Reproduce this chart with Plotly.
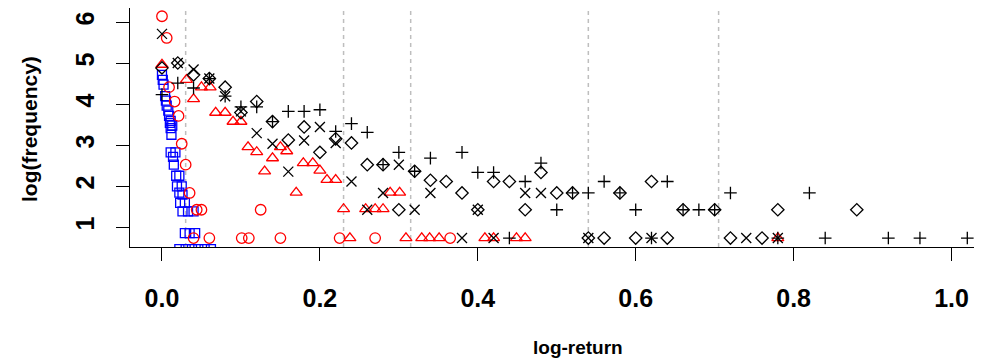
import plotly.graph_objects as go

# ---- data ----
circle_x = [0.000, 0.006, 0.009, 0.016, 0.021, 0.025, 0.030, 0.035, 0.044, 0.050, 0.125,
            0.040, 0.060, 0.101, 0.110, 0.150, 0.225, 0.270, 0.365]
circle_y = [6.15, 5.62, 4.42, 4.07, 3.72, 3.04, 2.53, 1.84, 1.43, 1.43, 1.43,
            0.74, 0.74, 0.74, 0.74, 0.74, 0.74, 0.74, 0.74]

square_x = [0.000, 0.001, 0.002, 0.004, 0.005, 0.006, 0.008, 0.009, 0.011, 0.013, 0.010,
            0.011, 0.012, 0.011, 0.017, 0.014, 0.015, 0.018, 0.022, 0.019, 0.025, 0.022,
            0.026, 0.023, 0.029, 0.026, 0.033, 0.040, 0.029, 0.035, 0.042,
            0.022, 0.030, 0.038, 0.046, 0.054, 0.062]
square_y = [4.72, 4.60, 4.48, 4.20, 4.09, 3.97, 3.85, 3.72, 3.60, 3.48, 3.55,
            3.42, 3.26, 2.83, 2.83, 2.72, 2.53, 2.26, 2.26, 2.00, 2.00, 1.85,
            1.80, 1.60, 1.60, 1.39, 1.39, 1.39, 0.86, 0.86, 0.86,
            0.47, 0.47, 0.47, 0.47, 0.47, 0.47]

triangle_x = [0.000, 0.031, 0.040, 0.050, 0.061, 0.068, 0.080, 0.090, 0.100, 0.109, 0.120,
              0.130, 0.140, 0.150, 0.158, 0.170, 0.179, 0.191, 0.200, 0.209, 0.220, 0.230,
              0.258, 0.270, 0.280, 0.289, 0.301, 0.238, 0.309, 0.329, 0.339, 0.351,
              0.409, 0.420, 0.449, 0.460, 0.780]
triangle_y = [4.97, 4.60, 4.13, 4.42, 4.42, 3.80, 3.80, 3.58, 3.58, 2.96, 2.84,
              2.37, 2.69, 2.96, 2.86, 1.85, 2.57, 2.57, 2.39, 2.16, 2.16, 1.45,
              1.45, 1.45, 1.45, 1.85, 1.85, 0.74, 0.74, 0.74, 0.74, 0.74,
              0.74, 0.74, 0.74, 0.74, 0.74]

diamond_x = [0.00, 0.02, 0.04, 0.06, 0.08, 0.10, 0.12, 0.14, 0.16, 0.18, 0.20, 0.22, 0.24,
             0.26, 0.28, 0.30, 0.32, 0.34, 0.36, 0.38, 0.40, 0.42, 0.44, 0.46, 0.48, 0.50,
             0.52, 0.54, 0.56, 0.58, 0.60, 0.62, 0.64, 0.66, 0.70, 0.72, 0.76, 0.78, 0.88]
diamond_y = [4.89, 5.01, 4.72, 4.63, 4.42, 3.80, 4.07, 3.58, 3.13, 3.45, 2.83, 3.16, 3.06,
             2.53, 2.53, 1.43, 2.37, 2.15, 2.12, 1.84, 1.43, 2.12, 2.12, 1.43, 2.34, 1.84,
             1.84, 0.74, 0.74, 1.84, 0.74, 2.12, 0.74, 1.43, 1.43, 0.74, 0.74, 1.43, 1.43]

cross_x = [0.00, 0.02, 0.04, 0.06, 0.08, 0.10, 0.12, 0.14, 0.16, 0.18, 0.20, 0.22, 0.24,
           0.26, 0.28, 0.30, 0.32, 0.34, 0.38, 0.40, 0.42, 0.46, 0.48, 0.54, 0.62, 0.74,
           0.78, 1.036]
cross_y = [5.72, 5.01, 4.85, 4.63, 4.20, 3.83, 3.30, 3.04, 2.36, 3.12, 3.45, 3.06, 2.12,
           1.43, 1.84, 2.53, 1.43, 1.84, 0.74, 1.43, 0.74, 1.84, 1.84, 0.74, 0.74, 0.74,
           0.74, 0.74]

plus_x = [0.00, 0.02, 0.04, 0.06, 0.08, 0.10, 0.12, 0.14, 0.16, 0.18, 0.20, 0.22, 0.24,
          0.26, 0.28, 0.30, 0.32, 0.34, 0.38, 0.40, 0.42, 0.44, 0.46, 0.48, 0.50, 0.52,
          0.54, 0.56, 0.58, 0.60, 0.62, 0.64, 0.66, 0.68, 0.70, 0.72, 0.78, 0.82, 0.84,
          0.92, 0.96, 1.02]
plus_y = [4.24, 4.52, 4.40, 4.63, 4.20, 3.94, 3.94, 3.58, 3.83, 3.83, 3.87, 3.34, 3.53,
          3.32, 2.53, 2.83, 2.37, 2.69, 2.83, 2.34, 2.34, 0.74, 2.12, 2.57, 1.43, 1.84,
          1.84, 2.12, 1.84, 1.43, 0.74, 2.12, 1.43, 1.43, 1.43, 1.84, 0.74, 1.84, 0.74,
          0.74, 0.74, 0.74]

vline_x = [0.03, 0.23, 0.315, 0.54, 0.705]

x_ticks = [0.0, 0.2, 0.4, 0.6, 0.8, 1.0]
x_tick_labels = ["0.0", "0.2", "0.4", "0.6", "0.8", "1.0"]
y_ticks = [1, 2, 3, 4, 5, 6]
y_tick_labels = ["1", "2", "3", "4", "5", "6"]

# ---- figure ----
RED = "#FF0000"
BLUE = "#0000FF"
BLACK = "#000000"
FONT = "Liberation Sans"

fig = go.Figure()

def add(xs, ys, symbol, color, size):
    fig.add_trace(go.Scatter(
        x=xs, y=ys, mode="markers",
        marker=dict(symbol=symbol, size=size, color=color,
                    line=dict(color=color, width=1.3)),
        showlegend=False, hoverinfo="skip"))

add(square_x, square_y, "square-open", BLUE, 9)
add(circle_x, circle_y, "circle-open", RED, 10.5)
add(triangle_x, triangle_y, "triangle-up-open", RED, 10.5)
add(diamond_x, diamond_y, "diamond-open", BLACK, 9.5)
add(cross_x, cross_y, "x-thin-open", BLACK, 10)
add(plus_x, plus_y, "cross-thin-open", BLACK, 9)

for vx in vline_x:
    fig.add_shape(type="line", xref="x", yref="paper", x0=vx, x1=vx, y0=0, y1=1,
                  line=dict(color="#BEBEBE", width=1.5, dash="4px,4px"), layer="below")

# the page body keeps an 8 px margin, so the figure starts at (8, 8)
fig.update_layout(
    width=974, height=352,
    margin=dict(l=122, r=0, t=0, b=113),
    paper_bgcolor="white", plot_bgcolor="white",
    xaxis=dict(range=[-0.0405, 1.0386], tickvals=x_ticks, ticktext=x_tick_labels,
               automargin=False,
               showgrid=False, zeroline=False, showline=True, mirror=True,
               linecolor=BLACK, linewidth=1, ticks="outside", ticklen=13,
               tickwidth=1, tickcolor=BLACK, ticklabelstandoff=16,
               tickfont=dict(family=FONT, size=25, color=BLACK, weight="bold")),
    yaxis=dict(range=[0.522, 6.351], tickvals=y_ticks, ticktext=y_tick_labels,
               automargin=False,
               showgrid=False, zeroline=False, showline=True, mirror=False,
               linecolor=BLACK, linewidth=1, ticks="outside", ticklen=13,
               tickwidth=1, tickcolor=BLACK, tickangle=-90, ticklabelstandoff=12,
               tickfont=dict(family=FONT, size=25, color=BLACK, weight="bold")),
    annotations=[
        dict(text="log-return", xref="paper", yref="paper",
             x=(578 - 130) / 852, y=(247 - 347) / 239, showarrow=False,
             xanchor="center", yanchor="middle",
             font=dict(family=FONT, size=19, color=BLACK, weight="bold")),
        dict(text="log(frequency)", xref="paper", yref="paper",
             x=(30 - 130) / 852, y=(247 - 129) / 239, showarrow=False,
             xanchor="center", yanchor="middle", textangle=-90,
             font=dict(family=FONT, size=21, color=BLACK, weight="bold")),
    ],
)

fig.write_html("out.html")
